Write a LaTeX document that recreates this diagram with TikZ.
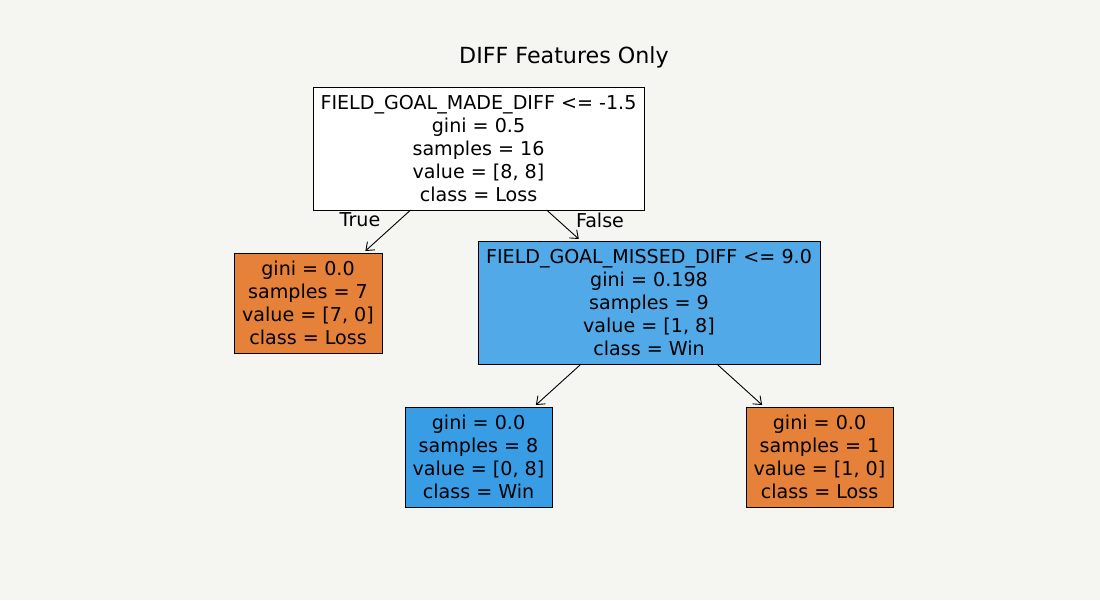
\documentclass[tikz,border=0pt]{standalone}
\usepackage{fontspec}
\setmainfont{DejaVu Sans}
\usetikzlibrary{arrows.meta}
\definecolor{bg}{HTML}{F5F5F2}
\definecolor{orng}{HTML}{E58139}
\definecolor{blu}{HTML}{399DE5}
\definecolor{lblu}{HTML}{52A9E8}
\begin{document}
\begin{tikzpicture}[x=1pt,y=-1pt,
  tnode/.style={draw=black, line width=0.8pt, align=center, inner sep=0pt, outer sep=0pt,
    font=\fontsize{19.1}{23}\selectfont},
  arr/.style={-{Straight Barb[length=7pt,width=11pt]}, line width=0.9pt, shorten >=3pt},
  lbl/.style={font=\fontsize{19.1}{23}\selectfont}]
\fill[bg] (0,0) rectangle (1100,600);
\useasboundingbox (0,0) rectangle (1100,600);
\node[font=\fontsize{22.2}{26}\selectfont] (title) at (564,57) {DIFF Features Only};
\node[tnode, fill=white, minimum width=331pt, minimum height=123pt] (root) at (478.5,148.5)
  {FIELD\_GOAL\_MADE\_DIFF <= -1.5\\gini = 0.5\\samples = 16\\value = [8, 8]\\class = Loss};
\node[tnode, fill=orng, minimum width=148pt, minimum height=100pt] (left) at (308,303)
  {gini = 0.0\\samples = 7\\value = [7, 0]\\class = Loss};
\node[tnode, fill=lblu, minimum width=342pt, minimum height=123pt] (right) at (649,302.5)
  {FIELD\_GOAL\_MISSED\_DIFF <= 9.0\\gini = 0.198\\samples = 9\\value = [1, 8]\\class = Win};
\node[tnode, fill=blu, minimum width=147pt, minimum height=100pt] (ll) at (478.5,457)
  {gini = 0.0\\samples = 8\\value = [0, 8]\\class = Win};
\node[tnode, fill=orng, minimum width=147pt, minimum height=100pt] (lr) at (819.5,457)
  {gini = 0.0\\samples = 1\\value = [1, 0]\\class = Loss};
\draw[arr] (root) -- (left);
\draw[arr] (root) -- (right);
\draw[arr] (right) -- (ll);
\draw[arr] (right) -- (lr);
\node[lbl] (t) at (360,220) {True};
\node[lbl] (f) at (600,220) {False};
\end{tikzpicture}
\end{document}
